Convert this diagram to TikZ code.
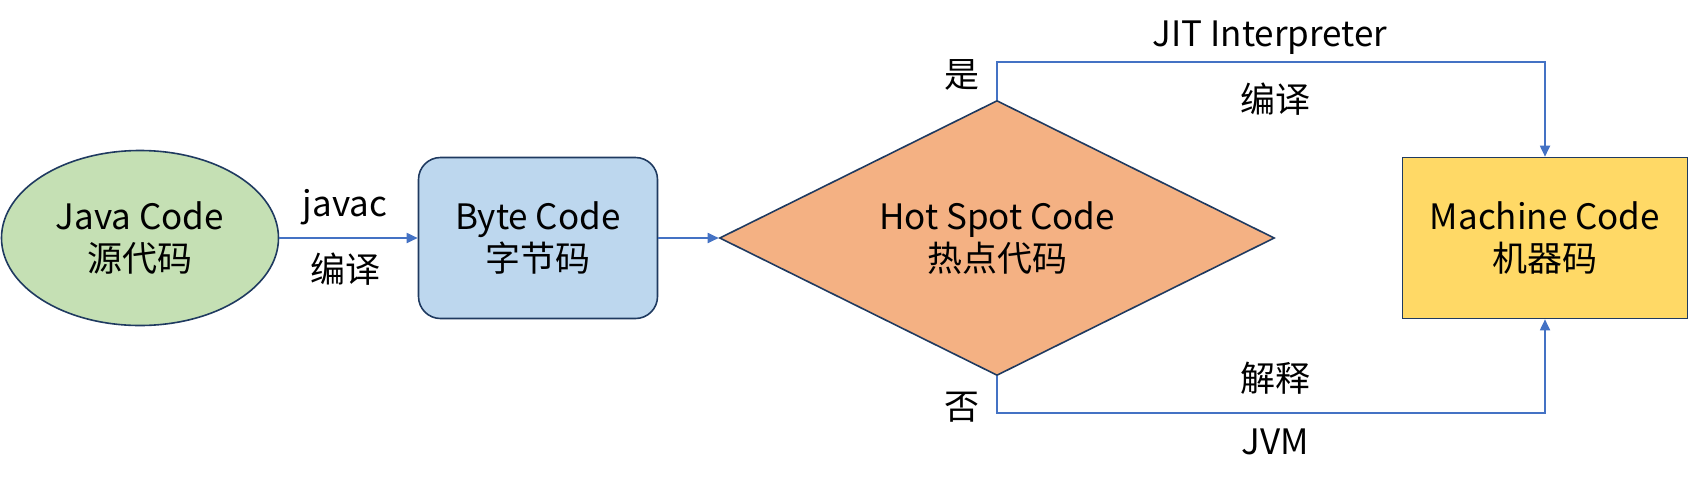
\documentclass[tikz,border=0pt]{standalone}
\usepackage{fontspec}
\setmainfont{Noto Sans CJK SC}
\usetikzlibrary{shapes.geometric,arrows.meta}
\definecolor{bordc}{HTML}{1F3A60}
\definecolor{linec}{HTML}{4472C4}
\definecolor{greenc}{HTML}{C5E0B4}
\definecolor{bluec}{HTML}{BDD7EE}
\definecolor{orangec}{HTML}{F4B183}
\definecolor{yellowc}{HTML}{FFD966}
\tikzset{
  txt/.style={font=\fontsize{35}{42}\selectfont, align=center, inner sep=0pt},
  shapebox/.style={draw=bordc, line width=1.6pt, txt},
  conn/.style={draw=linec, line width=1.8pt, -{Triangle[length=11pt,width=10pt]}},
  lbl/.style={txt}
}
\begin{document}
\begin{tikzpicture}[x=1pt,y=-1pt]
\useasboundingbox (0,0) rectangle (1690,483);
\node[shapebox, ellipse, fill=greenc, minimum width=277, minimum height=175] (java) at (140,238) {Java Code\\源代码};
\node[shapebox, rectangle, rounded corners=22, fill=bluec, minimum width=239, minimum height=161] (byte) at (538,238) {Byte Code\\字节码};
\node[shapebox, diamond, aspect=2, fill=orangec, minimum width=555, minimum height=275] (hot) at (997,238) {Hot Spot Code\\热点代码};
\node[shapebox, rectangle, fill=yellowc, minimum width=285, minimum height=161] (mach) at (1545,238) {Machine Code\\机器码};
\coordinate (topy) at (0,62);
\coordinate (boty) at (0,413);
\draw[conn] (java) -- (byte);
\draw[conn] (byte) -- (hot);
\draw[conn] (hot.north) -- (hot.north |- topy) -| (mach.north);
\draw[conn] (hot.south) -- (hot.south |- boty) -| (mach.south);
\node[lbl] (javac) at (345,207) {javac};
\node[lbl] (bianyi1) at (345,269) {编译};
\node[lbl] (shi) at (962,75) {是};
\node[lbl] (fou) at (962,407) {否};
\node[lbl] (jit) at (1270,38) {JIT Interpreter};
\node[lbl] (bianyi2) at (1275,99) {编译};
\node[lbl] (jieshi) at (1275,378) {解释};
\node[lbl] (jvm) at (1275,442) {JVM};
\end{tikzpicture}
\end{document}
